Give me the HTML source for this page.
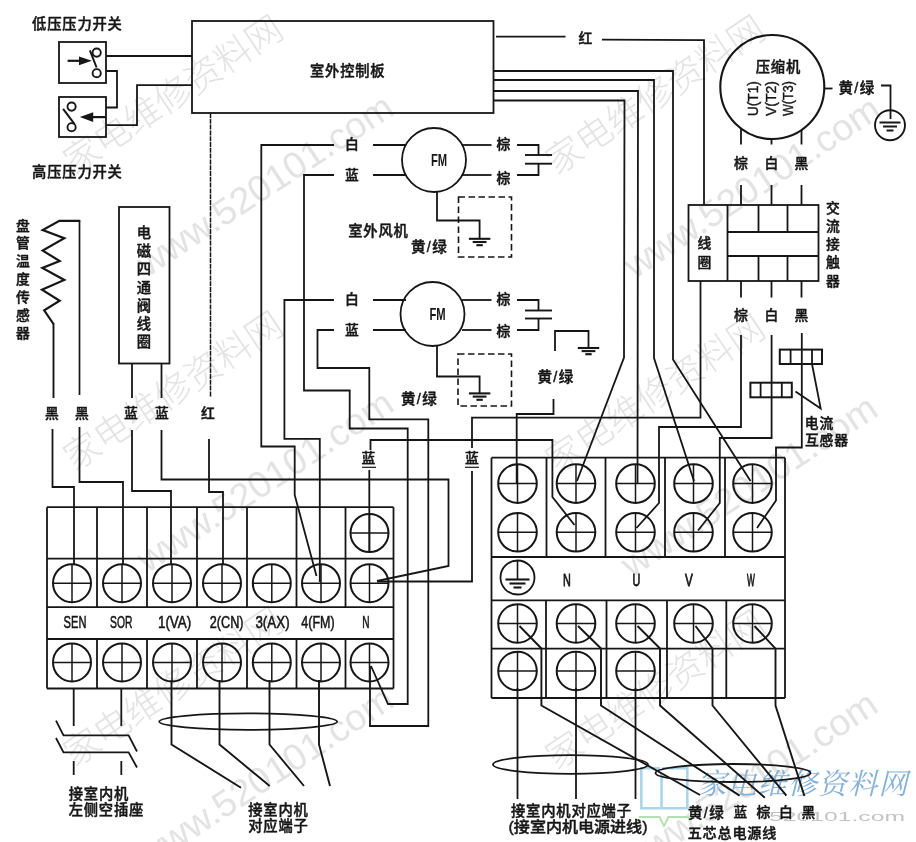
<!DOCTYPE html>
<html lang="zh-CN">
<head>
<meta charset="utf-8">
<title>空调室外机接线图</title>
<style>
html,body{margin:0;padding:0;background:#ffffff;}
body{width:916px;height:842px;overflow:hidden;font-family:"Liberation Sans","Noto Sans CJK SC",sans-serif;}
svg{display:block;will-change:transform;}
</style>
</head>
<body>
<svg width="916" height="842" viewBox="0 0 916 842" shape-rendering="geometricPrecision">
<text x="173.0" y="95.0" font-size="36.0" font-weight="300" text-anchor="middle" fill="#e3e3e3" font-family='"Liberation Sans", "Noto Sans CJK SC", sans-serif' dominant-baseline="central" textLength="254.0" lengthAdjust="spacingAndGlyphs" transform="rotate(-33.6 173.0 95.0)">家电维修资料网</text>
<text x="265.0" y="185.0" font-size="37.0" font-weight="300" text-anchor="middle" fill="#e3e3e3" font-family='"Liberation Sans", "Noto Sans CJK SC", sans-serif' dominant-baseline="central" textLength="298.0" lengthAdjust="spacingAndGlyphs" transform="rotate(-33.4 265.0 185.0)">www.520101.com</text>
<text x="173.0" y="391.0" font-size="36.0" font-weight="300" text-anchor="middle" fill="#e3e3e3" font-family='"Liberation Sans", "Noto Sans CJK SC", sans-serif' dominant-baseline="central" textLength="254.0" lengthAdjust="spacingAndGlyphs" transform="rotate(-33.6 173.0 391.0)">家电维修资料网</text>
<text x="265.0" y="481.0" font-size="37.0" font-weight="300" text-anchor="middle" fill="#e3e3e3" font-family='"Liberation Sans", "Noto Sans CJK SC", sans-serif' dominant-baseline="central" textLength="298.0" lengthAdjust="spacingAndGlyphs" transform="rotate(-33.4 265.0 481.0)">www.520101.com</text>
<text x="173.0" y="687.0" font-size="36.0" font-weight="300" text-anchor="middle" fill="#e3e3e3" font-family='"Liberation Sans", "Noto Sans CJK SC", sans-serif' dominant-baseline="central" textLength="254.0" lengthAdjust="spacingAndGlyphs" transform="rotate(-33.6 173.0 687.0)">家电维修资料网</text>
<text x="265.0" y="777.0" font-size="37.0" font-weight="300" text-anchor="middle" fill="#e3e3e3" font-family='"Liberation Sans", "Noto Sans CJK SC", sans-serif' dominant-baseline="central" textLength="298.0" lengthAdjust="spacingAndGlyphs" transform="rotate(-33.4 265.0 777.0)">www.520101.com</text>
<text x="655.0" y="95.0" font-size="36.0" font-weight="300" text-anchor="middle" fill="#e3e3e3" font-family='"Liberation Sans", "Noto Sans CJK SC", sans-serif' dominant-baseline="central" textLength="254.0" lengthAdjust="spacingAndGlyphs" transform="rotate(-33.6 655.0 95.0)">家电维修资料网</text>
<text x="752.0" y="187.0" font-size="37.0" font-weight="300" text-anchor="middle" fill="#e3e3e3" font-family='"Liberation Sans", "Noto Sans CJK SC", sans-serif' dominant-baseline="central" textLength="298.0" lengthAdjust="spacingAndGlyphs" transform="rotate(-33.4 752.0 187.0)">www.520101.com</text>
<text x="655.0" y="394.0" font-size="36.0" font-weight="300" text-anchor="middle" fill="#e3e3e3" font-family='"Liberation Sans", "Noto Sans CJK SC", sans-serif' dominant-baseline="central" textLength="254.0" lengthAdjust="spacingAndGlyphs" transform="rotate(-33.6 655.0 394.0)">家电维修资料网</text>
<text x="749.0" y="486.0" font-size="37.0" font-weight="300" text-anchor="middle" fill="#e3e3e3" font-family='"Liberation Sans", "Noto Sans CJK SC", sans-serif' dominant-baseline="central" textLength="298.0" lengthAdjust="spacingAndGlyphs" transform="rotate(-33.4 749.0 486.0)">www.520101.com</text>
<text x="655.0" y="690.0" font-size="36.0" font-weight="300" text-anchor="middle" fill="#e3e3e3" font-family='"Liberation Sans", "Noto Sans CJK SC", sans-serif' dominant-baseline="central" textLength="254.0" lengthAdjust="spacingAndGlyphs" transform="rotate(-33.6 655.0 690.0)">家电维修资料网</text>
<text x="749.0" y="782.0" font-size="37.0" font-weight="300" text-anchor="middle" fill="#e3e3e3" font-family='"Liberation Sans", "Noto Sans CJK SC", sans-serif' dominant-baseline="central" textLength="298.0" lengthAdjust="spacingAndGlyphs" transform="rotate(-33.4 749.0 782.0)">www.520101.com</text>
<polyline points="660.0,768.3 641.3,768.3 641.3,808.3 660.0,808.3" fill="none" stroke="#a9d6ea" stroke-width="2.60" />
<polyline points="661.5,773.0 661.5,808.3 687.3,808.3 687.3,768.3 662.0,768.3" fill="none" stroke="#a9d6ea" stroke-width="2.60" />
<polyline points="639.0,817.0 659.5,817.0 664.0,826.0 668.5,817.0 689.0,817.0" fill="none" stroke="#b4dfae" stroke-width="1.90" />
<text x="803.0" y="783.5" font-size="29.0" font-weight="400" text-anchor="middle" fill="#86b1d8" font-family='"Liberation Serif", "Noto Serif CJK SC", serif' dominant-baseline="central" letter-spacing="1.2" font-style="italic">家电维修资料网</text>
<text x="837.0" y="816.5" font-size="12.5" font-weight="400" text-anchor="middle" fill="#c4c4c4" font-family='"Liberation Sans", sans-serif' dominant-baseline="central" textLength="136.0" lengthAdjust="spacingAndGlyphs" >520101.com</text>
<text x="77.4" y="23.5" font-size="14.3" font-weight="500" text-anchor="middle" fill="#161616" font-family='"Liberation Sans", "Noto Sans CJK SC", sans-serif' dominant-baseline="central" letter-spacing="0.8"  stroke="#161616" stroke-width="0.45" stroke-linejoin="round">低压压力开关</text>
<text x="77.4" y="172.0" font-size="14.3" font-weight="500" text-anchor="middle" fill="#161616" font-family='"Liberation Sans", "Noto Sans CJK SC", sans-serif' dominant-baseline="central" letter-spacing="0.8"  stroke="#161616" stroke-width="0.45" stroke-linejoin="round">高压压力开关</text>
<rect x="59.0" y="42.0" width="47.0" height="41.0" fill="none" stroke="#161616" stroke-width="1.80"/>
<rect x="59.0" y="97.0" width="47.0" height="40.0" fill="none" stroke="#161616" stroke-width="1.80"/>
<polyline points="67.6,60.8 81.5,60.8" fill="none" stroke="#161616" stroke-width="2.20" />
<polygon points="79,56.4 91.8,60.8 79,65.2" fill="#161616"/>
<circle cx="96.7" cy="52.6" r="4.1" fill="none" stroke="#161616" stroke-width="1.90"/>
<circle cx="96.7" cy="73.2" r="4.1" fill="none" stroke="#161616" stroke-width="1.90"/>
<polyline points="89.9,50.4 96.6,67.5" fill="none" stroke="#161616" stroke-width="2.00" />
<circle cx="71.6" cy="106.6" r="4.1" fill="none" stroke="#161616" stroke-width="1.90"/>
<circle cx="71.6" cy="127.2" r="4.1" fill="none" stroke="#161616" stroke-width="1.90"/>
<polyline points="63.1,108.9 74.6,124.2" fill="none" stroke="#161616" stroke-width="2.00" />
<polyline points="92.5,117.1 105.6,117.1" fill="none" stroke="#161616" stroke-width="2.20" />
<polygon points="93.2,112.3 79.8,117.1 93.2,121.9" fill="#161616"/>
<polyline points="106.0,56.0 192.0,56.0" fill="none" stroke="#161616" stroke-width="1.80" />
<polyline points="106.0,71.0 117.0,71.0 117.0,107.5 106.0,107.5" fill="none" stroke="#161616" stroke-width="1.80" />
<polyline points="106.0,125.2 137.0,125.2 137.0,85.2 192.0,85.2" fill="none" stroke="#161616" stroke-width="1.80" />
<rect x="192.0" y="21.0" width="301.5" height="92.0" fill="none" stroke="#161616" stroke-width="1.80"/>
<text x="347.7" y="70.8" font-size="14.3" font-weight="500" text-anchor="middle" fill="#161616" font-family='"Liberation Sans", "Noto Sans CJK SC", sans-serif' dominant-baseline="central" letter-spacing="0.8"  stroke="#161616" stroke-width="0.45" stroke-linejoin="round">室外控制板</text>
<text x="23.4" y="226.0" font-size="13.8" font-weight="500" text-anchor="middle" fill="#161616" font-family='"Liberation Sans", "Noto Sans CJK SC", sans-serif' dominant-baseline="central" letter-spacing="0.8"  stroke="#161616" stroke-width="0.45" stroke-linejoin="round">盘</text>
<text x="23.4" y="243.9" font-size="13.8" font-weight="500" text-anchor="middle" fill="#161616" font-family='"Liberation Sans", "Noto Sans CJK SC", sans-serif' dominant-baseline="central" letter-spacing="0.8"  stroke="#161616" stroke-width="0.45" stroke-linejoin="round">管</text>
<text x="23.4" y="261.8" font-size="13.8" font-weight="500" text-anchor="middle" fill="#161616" font-family='"Liberation Sans", "Noto Sans CJK SC", sans-serif' dominant-baseline="central" letter-spacing="0.8"  stroke="#161616" stroke-width="0.45" stroke-linejoin="round">温</text>
<text x="23.4" y="279.7" font-size="13.8" font-weight="500" text-anchor="middle" fill="#161616" font-family='"Liberation Sans", "Noto Sans CJK SC", sans-serif' dominant-baseline="central" letter-spacing="0.8"  stroke="#161616" stroke-width="0.45" stroke-linejoin="round">度</text>
<text x="23.4" y="297.6" font-size="13.8" font-weight="500" text-anchor="middle" fill="#161616" font-family='"Liberation Sans", "Noto Sans CJK SC", sans-serif' dominant-baseline="central" letter-spacing="0.8"  stroke="#161616" stroke-width="0.45" stroke-linejoin="round">传</text>
<text x="23.4" y="315.5" font-size="13.8" font-weight="500" text-anchor="middle" fill="#161616" font-family='"Liberation Sans", "Noto Sans CJK SC", sans-serif' dominant-baseline="central" letter-spacing="0.8"  stroke="#161616" stroke-width="0.45" stroke-linejoin="round">感</text>
<text x="23.4" y="333.4" font-size="13.8" font-weight="500" text-anchor="middle" fill="#161616" font-family='"Liberation Sans", "Noto Sans CJK SC", sans-serif' dominant-baseline="central" letter-spacing="0.8"  stroke="#161616" stroke-width="0.45" stroke-linejoin="round">器</text>
<polyline points="79.5,395.0 79.5,220.8" fill="none" stroke="#161616" stroke-width="1.70" />
<polyline points="80.3,220.8 59.4,220.8 42.7,230.0 64.3,238.2 42.7,250.6 59.7,261.0 42.4,268.0 64.3,280.0 42.0,289.7 59.7,300.8 44.2,310.4 53.5,324.0" fill="none" stroke="#161616" stroke-width="2.20" stroke-linejoin="miter"/>
<polyline points="53.5,323.0 53.5,398.0" fill="none" stroke="#161616" stroke-width="1.90" />
<rect x="119.0" y="207.0" width="50.5" height="156.5" fill="none" stroke="#161616" stroke-width="1.80"/>
<text x="144.4" y="233.0" font-size="14.3" font-weight="500" text-anchor="middle" fill="#161616" font-family='"Liberation Sans", "Noto Sans CJK SC", sans-serif' dominant-baseline="central" letter-spacing="0.8"  stroke="#161616" stroke-width="0.45" stroke-linejoin="round">电</text>
<text x="144.4" y="251.2" font-size="14.3" font-weight="500" text-anchor="middle" fill="#161616" font-family='"Liberation Sans", "Noto Sans CJK SC", sans-serif' dominant-baseline="central" letter-spacing="0.8"  stroke="#161616" stroke-width="0.45" stroke-linejoin="round">磁</text>
<text x="144.4" y="269.4" font-size="14.3" font-weight="500" text-anchor="middle" fill="#161616" font-family='"Liberation Sans", "Noto Sans CJK SC", sans-serif' dominant-baseline="central" letter-spacing="0.8"  stroke="#161616" stroke-width="0.45" stroke-linejoin="round">四</text>
<text x="144.4" y="287.6" font-size="14.3" font-weight="500" text-anchor="middle" fill="#161616" font-family='"Liberation Sans", "Noto Sans CJK SC", sans-serif' dominant-baseline="central" letter-spacing="0.8"  stroke="#161616" stroke-width="0.45" stroke-linejoin="round">通</text>
<text x="144.4" y="305.8" font-size="14.3" font-weight="500" text-anchor="middle" fill="#161616" font-family='"Liberation Sans", "Noto Sans CJK SC", sans-serif' dominant-baseline="central" letter-spacing="0.8"  stroke="#161616" stroke-width="0.45" stroke-linejoin="round">阀</text>
<text x="144.4" y="324.0" font-size="14.3" font-weight="500" text-anchor="middle" fill="#161616" font-family='"Liberation Sans", "Noto Sans CJK SC", sans-serif' dominant-baseline="central" letter-spacing="0.8"  stroke="#161616" stroke-width="0.45" stroke-linejoin="round">线</text>
<text x="144.4" y="342.2" font-size="14.3" font-weight="500" text-anchor="middle" fill="#161616" font-family='"Liberation Sans", "Noto Sans CJK SC", sans-serif' dominant-baseline="central" letter-spacing="0.8"  stroke="#161616" stroke-width="0.45" stroke-linejoin="round">圈</text>
<polyline points="132.0,363.5 132.0,398.0" fill="none" stroke="#161616" stroke-width="1.80" />
<polyline points="161.5,363.5 161.5,398.0" fill="none" stroke="#161616" stroke-width="1.80" />
<polyline points="210.5,113.0 210.5,397.0" fill="none" stroke="#161616" stroke-width="1.50" stroke-dasharray="5 0.8" />
<text x="52.4" y="413.5" font-size="13.8" font-weight="500" text-anchor="middle" fill="#161616" font-family='"Liberation Sans", "Noto Sans CJK SC", sans-serif' dominant-baseline="central" letter-spacing="0.8"  stroke="#161616" stroke-width="0.45" stroke-linejoin="round">黑</text>
<text x="82.4" y="413.5" font-size="13.8" font-weight="500" text-anchor="middle" fill="#161616" font-family='"Liberation Sans", "Noto Sans CJK SC", sans-serif' dominant-baseline="central" letter-spacing="0.8"  stroke="#161616" stroke-width="0.45" stroke-linejoin="round">黑</text>
<text x="131.4" y="413.5" font-size="13.8" font-weight="500" text-anchor="middle" fill="#161616" font-family='"Liberation Sans", "Noto Sans CJK SC", sans-serif' dominant-baseline="central" letter-spacing="0.8"  stroke="#161616" stroke-width="0.45" stroke-linejoin="round">蓝</text>
<text x="162.4" y="413.5" font-size="13.8" font-weight="500" text-anchor="middle" fill="#161616" font-family='"Liberation Sans", "Noto Sans CJK SC", sans-serif' dominant-baseline="central" letter-spacing="0.8"  stroke="#161616" stroke-width="0.45" stroke-linejoin="round">蓝</text>
<text x="208.4" y="413.5" font-size="13.8" font-weight="500" text-anchor="middle" fill="#161616" font-family='"Liberation Sans", "Noto Sans CJK SC", sans-serif' dominant-baseline="central" letter-spacing="0.8"  stroke="#161616" stroke-width="0.45" stroke-linejoin="round">红</text>
<polyline points="52.5,429.0 52.5,487.0 74.0,487.0 74.0,565.0" fill="none" stroke="#161616" stroke-width="1.80" />
<polyline points="79.5,427.0 79.5,482.0 123.0,482.0 123.0,565.0" fill="none" stroke="#161616" stroke-width="1.80" />
<polyline points="132.0,430.0 132.0,491.0 171.0,491.0 171.0,565.0" fill="none" stroke="#161616" stroke-width="1.80" />
<polyline points="161.5,430.0 161.5,479.5 448.5,479.5 448.5,566.0 377.0,581.0" fill="none" stroke="#161616" stroke-width="1.80" />
<polyline points="209.0,439.0 209.0,492.0 223.0,492.0 223.0,565.0" fill="none" stroke="#161616" stroke-width="1.80" />
<polyline points="47.0,507.2 393.5,507.2" fill="none" stroke="#161616" stroke-width="1.80" />
<polyline points="47.0,558.6 393.5,558.6" fill="none" stroke="#161616" stroke-width="1.80" />
<polyline points="47.0,607.2 393.5,607.2" fill="none" stroke="#161616" stroke-width="1.80" />
<polyline points="47.0,639.0 393.5,639.0" fill="none" stroke="#161616" stroke-width="1.80" />
<polyline points="47.0,688.5 393.5,688.5" fill="none" stroke="#161616" stroke-width="1.80" />
<polyline points="47.0,507.2 47.0,688.5" fill="none" stroke="#161616" stroke-width="1.80" />
<polyline points="393.5,507.2 393.5,688.5" fill="none" stroke="#161616" stroke-width="1.80" />
<polyline points="97.0,507.2 97.0,607.2" fill="none" stroke="#161616" stroke-width="1.80" />
<polyline points="97.0,639.0 97.0,688.5" fill="none" stroke="#161616" stroke-width="1.80" />
<polyline points="147.0,507.2 147.0,607.2" fill="none" stroke="#161616" stroke-width="1.80" />
<polyline points="147.0,639.0 147.0,688.5" fill="none" stroke="#161616" stroke-width="1.80" />
<polyline points="197.0,507.2 197.0,607.2" fill="none" stroke="#161616" stroke-width="1.80" />
<polyline points="197.0,639.0 197.0,688.5" fill="none" stroke="#161616" stroke-width="1.80" />
<polyline points="247.0,507.2 247.0,607.2" fill="none" stroke="#161616" stroke-width="1.80" />
<polyline points="247.0,639.0 247.0,688.5" fill="none" stroke="#161616" stroke-width="1.80" />
<polyline points="296.5,507.2 296.5,607.2" fill="none" stroke="#161616" stroke-width="1.80" />
<polyline points="296.5,639.0 296.5,688.5" fill="none" stroke="#161616" stroke-width="1.80" />
<polyline points="345.5,507.2 345.5,607.2" fill="none" stroke="#161616" stroke-width="1.80" />
<polyline points="345.5,639.0 345.5,688.5" fill="none" stroke="#161616" stroke-width="1.80" />
<circle cx="72.0" cy="583.2" r="19.0" fill="none" stroke="#161616" stroke-width="2.00"/>
<polyline points="53.0,583.2 91.0,583.2" fill="none" stroke="#161616" stroke-width="1.50" />
<polyline points="72.0,564.2 72.0,602.2" fill="none" stroke="#161616" stroke-width="1.50" />
<circle cx="72.0" cy="662.4" r="19.0" fill="none" stroke="#161616" stroke-width="2.00"/>
<polyline points="53.0,662.4 91.0,662.4" fill="none" stroke="#161616" stroke-width="1.50" />
<polyline points="72.0,643.4 72.0,681.4" fill="none" stroke="#161616" stroke-width="1.50" />
<circle cx="122.0" cy="583.2" r="19.0" fill="none" stroke="#161616" stroke-width="2.00"/>
<polyline points="103.0,583.2 141.0,583.2" fill="none" stroke="#161616" stroke-width="1.50" />
<polyline points="122.0,564.2 122.0,602.2" fill="none" stroke="#161616" stroke-width="1.50" />
<circle cx="122.0" cy="662.4" r="19.0" fill="none" stroke="#161616" stroke-width="2.00"/>
<polyline points="103.0,662.4 141.0,662.4" fill="none" stroke="#161616" stroke-width="1.50" />
<polyline points="122.0,643.4 122.0,681.4" fill="none" stroke="#161616" stroke-width="1.50" />
<circle cx="172.0" cy="583.2" r="19.0" fill="none" stroke="#161616" stroke-width="2.00"/>
<polyline points="153.0,583.2 191.0,583.2" fill="none" stroke="#161616" stroke-width="1.50" />
<polyline points="172.0,564.2 172.0,602.2" fill="none" stroke="#161616" stroke-width="1.50" />
<circle cx="172.0" cy="662.4" r="19.0" fill="none" stroke="#161616" stroke-width="2.00"/>
<polyline points="153.0,662.4 191.0,662.4" fill="none" stroke="#161616" stroke-width="1.50" />
<polyline points="172.0,643.4 172.0,681.4" fill="none" stroke="#161616" stroke-width="1.50" />
<circle cx="222.0" cy="583.2" r="19.0" fill="none" stroke="#161616" stroke-width="2.00"/>
<polyline points="203.0,583.2 241.0,583.2" fill="none" stroke="#161616" stroke-width="1.50" />
<polyline points="222.0,564.2 222.0,602.2" fill="none" stroke="#161616" stroke-width="1.50" />
<circle cx="222.0" cy="662.4" r="19.0" fill="none" stroke="#161616" stroke-width="2.00"/>
<polyline points="203.0,662.4 241.0,662.4" fill="none" stroke="#161616" stroke-width="1.50" />
<polyline points="222.0,643.4 222.0,681.4" fill="none" stroke="#161616" stroke-width="1.50" />
<circle cx="271.8" cy="583.2" r="19.0" fill="none" stroke="#161616" stroke-width="2.00"/>
<polyline points="252.8,583.2 290.8,583.2" fill="none" stroke="#161616" stroke-width="1.50" />
<polyline points="271.8,564.2 271.8,602.2" fill="none" stroke="#161616" stroke-width="1.50" />
<circle cx="271.8" cy="662.4" r="19.0" fill="none" stroke="#161616" stroke-width="2.00"/>
<polyline points="252.8,662.4 290.8,662.4" fill="none" stroke="#161616" stroke-width="1.50" />
<polyline points="271.8,643.4 271.8,681.4" fill="none" stroke="#161616" stroke-width="1.50" />
<circle cx="321.0" cy="583.2" r="19.0" fill="none" stroke="#161616" stroke-width="2.00"/>
<polyline points="302.0,583.2 340.0,583.2" fill="none" stroke="#161616" stroke-width="1.50" />
<polyline points="321.0,564.2 321.0,602.2" fill="none" stroke="#161616" stroke-width="1.50" />
<circle cx="321.0" cy="662.4" r="19.0" fill="none" stroke="#161616" stroke-width="2.00"/>
<polyline points="302.0,662.4 340.0,662.4" fill="none" stroke="#161616" stroke-width="1.50" />
<polyline points="321.0,643.4 321.0,681.4" fill="none" stroke="#161616" stroke-width="1.50" />
<circle cx="369.5" cy="583.2" r="19.0" fill="none" stroke="#161616" stroke-width="2.00"/>
<polyline points="350.5,583.2 388.5,583.2" fill="none" stroke="#161616" stroke-width="1.50" />
<polyline points="369.5,564.2 369.5,602.2" fill="none" stroke="#161616" stroke-width="1.50" />
<circle cx="369.5" cy="662.4" r="19.0" fill="none" stroke="#161616" stroke-width="2.00"/>
<polyline points="350.5,662.4 388.5,662.4" fill="none" stroke="#161616" stroke-width="1.50" />
<polyline points="369.5,643.4 369.5,681.4" fill="none" stroke="#161616" stroke-width="1.50" />
<circle cx="369.5" cy="533.0" r="19.0" fill="none" stroke="#161616" stroke-width="2.00"/>
<polyline points="350.5,533.0 388.5,533.0" fill="none" stroke="#161616" stroke-width="1.50" />
<polyline points="369.5,514.0 369.5,552.0" fill="none" stroke="#161616" stroke-width="1.50" />
<text x="75.0" y="622.3" font-size="16.5" font-weight="400" text-anchor="middle" fill="#161616" font-family='"Liberation Sans", sans-serif' dominant-baseline="central" textLength="22.8" lengthAdjust="spacingAndGlyphs" stroke="#161616" stroke-width="0.55">SEN</text>
<text x="121.2" y="622.3" font-size="16.5" font-weight="400" text-anchor="middle" fill="#161616" font-family='"Liberation Sans", sans-serif' dominant-baseline="central" textLength="22.4" lengthAdjust="spacingAndGlyphs" stroke="#161616" stroke-width="0.55">SOR</text>
<text x="174.6" y="622.3" font-size="16.5" font-weight="400" text-anchor="middle" fill="#161616" font-family='"Liberation Sans", sans-serif' dominant-baseline="central" textLength="33.3" lengthAdjust="spacingAndGlyphs" stroke="#161616" stroke-width="0.55">1(VA)</text>
<text x="226.7" y="622.3" font-size="16.5" font-weight="400" text-anchor="middle" fill="#161616" font-family='"Liberation Sans", sans-serif' dominant-baseline="central" textLength="33.8" lengthAdjust="spacingAndGlyphs" stroke="#161616" stroke-width="0.55">2(CN)</text>
<text x="272.5" y="622.3" font-size="16.5" font-weight="400" text-anchor="middle" fill="#161616" font-family='"Liberation Sans", sans-serif' dominant-baseline="central" textLength="34.2" lengthAdjust="spacingAndGlyphs" stroke="#161616" stroke-width="0.55">3(AX)</text>
<text x="318.0" y="622.3" font-size="16.5" font-weight="400" text-anchor="middle" fill="#161616" font-family='"Liberation Sans", sans-serif' dominant-baseline="central" textLength="33.4" lengthAdjust="spacingAndGlyphs" stroke="#161616" stroke-width="0.55">4(FM)</text>
<text x="366.0" y="622.3" font-size="16.5" font-weight="400" text-anchor="middle" fill="#161616" font-family='"Liberation Sans", sans-serif' dominant-baseline="central" textLength="7.3" lengthAdjust="spacingAndGlyphs" stroke="#161616" stroke-width="0.55">N</text>
<circle cx="434.0" cy="160.0" r="32.0" fill="none" stroke="#161616" stroke-width="1.80"/>
<text x="439.0" y="159.5" font-size="16.5" font-weight="700" text-anchor="middle" fill="#161616" font-family='"Liberation Sans", sans-serif' dominant-baseline="central" textLength="16.2" lengthAdjust="spacingAndGlyphs" >FM</text>
<text x="352.4" y="144.5" font-size="13.8" font-weight="500" text-anchor="middle" fill="#161616" font-family='"Liberation Sans", "Noto Sans CJK SC", sans-serif' dominant-baseline="central" letter-spacing="0.8"  stroke="#161616" stroke-width="0.45" stroke-linejoin="round">白</text>
<text x="352.4" y="175.5" font-size="13.8" font-weight="500" text-anchor="middle" fill="#161616" font-family='"Liberation Sans", "Noto Sans CJK SC", sans-serif' dominant-baseline="central" letter-spacing="0.8"  stroke="#161616" stroke-width="0.45" stroke-linejoin="round">蓝</text>
<polyline points="373.0,145.0 406.0,145.0" fill="none" stroke="#161616" stroke-width="1.80" />
<polyline points="373.0,175.0 406.0,175.0" fill="none" stroke="#161616" stroke-width="1.80" />
<polyline points="462.0,145.0 491.5,145.0" fill="none" stroke="#161616" stroke-width="1.80" />
<polyline points="462.0,175.0 491.5,175.0" fill="none" stroke="#161616" stroke-width="1.80" />
<text x="503.9" y="144.5" font-size="13.8" font-weight="500" text-anchor="middle" fill="#161616" font-family='"Liberation Sans", "Noto Sans CJK SC", sans-serif' dominant-baseline="central" letter-spacing="0.8"  stroke="#161616" stroke-width="0.45" stroke-linejoin="round">棕</text>
<text x="503.9" y="178.0" font-size="13.8" font-weight="500" text-anchor="middle" fill="#161616" font-family='"Liberation Sans", "Noto Sans CJK SC", sans-serif' dominant-baseline="central" letter-spacing="0.8"  stroke="#161616" stroke-width="0.45" stroke-linejoin="round">棕</text>
<polyline points="517.0,145.0 538.5,145.0 538.5,155.0" fill="none" stroke="#161616" stroke-width="1.80" />
<polyline points="517.0,175.0 538.5,175.0 538.5,163.7" fill="none" stroke="#161616" stroke-width="1.80" />
<polyline points="525.0,155.0 552.0,155.0" fill="none" stroke="#161616" stroke-width="1.90" />
<polyline points="525.0,163.7 552.0,163.7" fill="none" stroke="#161616" stroke-width="1.90" />
<circle cx="432.5" cy="314.0" r="32.0" fill="none" stroke="#161616" stroke-width="1.80"/>
<text x="437.5" y="313.5" font-size="16.5" font-weight="700" text-anchor="middle" fill="#161616" font-family='"Liberation Sans", sans-serif' dominant-baseline="central" textLength="16.2" lengthAdjust="spacingAndGlyphs" >FM</text>
<text x="352.4" y="299.5" font-size="13.8" font-weight="500" text-anchor="middle" fill="#161616" font-family='"Liberation Sans", "Noto Sans CJK SC", sans-serif' dominant-baseline="central" letter-spacing="0.8"  stroke="#161616" stroke-width="0.45" stroke-linejoin="round">白</text>
<text x="352.4" y="330.5" font-size="13.8" font-weight="500" text-anchor="middle" fill="#161616" font-family='"Liberation Sans", "Noto Sans CJK SC", sans-serif' dominant-baseline="central" letter-spacing="0.8"  stroke="#161616" stroke-width="0.45" stroke-linejoin="round">蓝</text>
<polyline points="373.0,300.0 406.0,300.0" fill="none" stroke="#161616" stroke-width="1.80" />
<polyline points="373.0,330.0 406.0,330.0" fill="none" stroke="#161616" stroke-width="1.80" />
<polyline points="462.0,300.0 491.5,300.0" fill="none" stroke="#161616" stroke-width="1.80" />
<polyline points="462.0,330.0 491.5,330.0" fill="none" stroke="#161616" stroke-width="1.80" />
<text x="503.9" y="299.5" font-size="13.8" font-weight="500" text-anchor="middle" fill="#161616" font-family='"Liberation Sans", "Noto Sans CJK SC", sans-serif' dominant-baseline="central" letter-spacing="0.8"  stroke="#161616" stroke-width="0.45" stroke-linejoin="round">棕</text>
<text x="503.9" y="331.5" font-size="13.8" font-weight="500" text-anchor="middle" fill="#161616" font-family='"Liberation Sans", "Noto Sans CJK SC", sans-serif' dominant-baseline="central" letter-spacing="0.8"  stroke="#161616" stroke-width="0.45" stroke-linejoin="round">棕</text>
<polyline points="517.0,300.0 538.5,300.0 538.5,310.5" fill="none" stroke="#161616" stroke-width="1.80" />
<polyline points="517.0,330.0 538.5,330.0 538.5,318.5" fill="none" stroke="#161616" stroke-width="1.80" />
<polyline points="525.0,310.5 552.0,310.5" fill="none" stroke="#161616" stroke-width="1.90" />
<polyline points="525.0,318.5 552.0,318.5" fill="none" stroke="#161616" stroke-width="1.90" />
<polyline points="334.0,145.0 261.3,145.0 261.3,446.5 294.7,446.5 294.7,495.0 316.5,576.0" fill="none" stroke="#161616" stroke-width="1.80" />
<polyline points="334.0,175.0 304.0,175.0 304.0,390.5 349.7,390.5 349.7,428.5 407.7,428.5 407.7,704.0 388.0,704.0 371.0,666.0" fill="none" stroke="#161616" stroke-width="1.80" />
<polyline points="334.0,300.0 284.4,300.0 284.4,438.8 319.8,438.8 319.8,582.0" fill="none" stroke="#161616" stroke-width="1.80" />
<polyline points="334.0,330.0 317.5,330.0 317.5,368.0 369.3,368.0 369.3,419.4 428.3,419.4 428.3,726.0 370.0,726.0 370.0,666.0" fill="none" stroke="#161616" stroke-width="1.80" />
<polyline points="437.0,192.0 437.0,220.5 479.6,220.5 479.6,239.0" fill="none" stroke="#161616" stroke-width="1.80" />
<polyline points="468.9,238.8 490.3,238.8" fill="none" stroke="#161616" stroke-width="2.10" />
<polyline points="472.7,242.0 486.5,242.0" fill="none" stroke="#161616" stroke-width="2.10" />
<polyline points="476.4,245.2 482.8,245.2" fill="none" stroke="#161616" stroke-width="2.10" />
<rect x="458.5" y="197.0" width="53.0" height="60.0" fill="none" stroke="#161616" stroke-width="1.60" stroke-dasharray="6.5 3.5"/>
<text x="378.4" y="230.5" font-size="14.3" font-weight="500" text-anchor="middle" fill="#161616" font-family='"Liberation Sans", "Noto Sans CJK SC", sans-serif' dominant-baseline="central" letter-spacing="0.8"  stroke="#161616" stroke-width="0.45" stroke-linejoin="round">室外风机</text>
<text x="429.5" y="246.9" font-size="14.5" font-weight="500" text-anchor="middle" fill="#161616" font-family='"Liberation Sans", "Noto Sans CJK SC", sans-serif' dominant-baseline="central" letter-spacing="1.3"  stroke="#161616" stroke-width="0.45" stroke-linejoin="round">黄/绿</text>
<polyline points="437.0,346.0 437.0,376.5 479.6,376.5 479.6,393.0" fill="none" stroke="#161616" stroke-width="1.80" />
<polyline points="468.9,393.4 490.3,393.4" fill="none" stroke="#161616" stroke-width="2.10" />
<polyline points="472.7,396.6 486.5,396.6" fill="none" stroke="#161616" stroke-width="2.10" />
<polyline points="476.4,399.8 482.8,399.8" fill="none" stroke="#161616" stroke-width="2.10" />
<rect x="458.0" y="354.0" width="53.5" height="52.0" fill="none" stroke="#161616" stroke-width="1.60" stroke-dasharray="6.5 3.5"/>
<text x="419.5" y="399.0" font-size="14.5" font-weight="500" text-anchor="middle" fill="#161616" font-family='"Liberation Sans", "Noto Sans CJK SC", sans-serif' dominant-baseline="central" letter-spacing="1.3"  stroke="#161616" stroke-width="0.45" stroke-linejoin="round">黄/绿</text>
<polyline points="555.0,351.0 555.0,331.0 588.5,331.0 588.5,347.5" fill="none" stroke="#161616" stroke-width="1.80" />
<polyline points="577.8,348.0 599.2,348.0" fill="none" stroke="#161616" stroke-width="2.10" />
<polyline points="581.6,351.1 595.4,351.1" fill="none" stroke="#161616" stroke-width="2.10" />
<polyline points="585.3,354.2 591.7,354.2" fill="none" stroke="#161616" stroke-width="2.10" />
<text x="556.0" y="377.0" font-size="14.5" font-weight="500" text-anchor="middle" fill="#161616" font-family='"Liberation Sans", "Noto Sans CJK SC", sans-serif' dominant-baseline="central" letter-spacing="1.3"  stroke="#161616" stroke-width="0.45" stroke-linejoin="round">黄/绿</text>
<polyline points="553.5,399.0 553.5,414.0 516.7,414.0 516.7,483.0" fill="none" stroke="#161616" stroke-width="1.80" />
<text x="368.9" y="458.5" font-size="13.8" font-weight="500" text-anchor="middle" fill="#161616" font-family='"Liberation Sans", "Noto Sans CJK SC", sans-serif' dominant-baseline="central" letter-spacing="0.8"  stroke="#161616" stroke-width="0.45" stroke-linejoin="round">蓝</text>
<polyline points="362.0,467.3 376.0,467.3" fill="none" stroke="#161616" stroke-width="1.20" />
<text x="472.4" y="458.5" font-size="13.8" font-weight="500" text-anchor="middle" fill="#161616" font-family='"Liberation Sans", "Noto Sans CJK SC", sans-serif' dominant-baseline="central" letter-spacing="0.8"  stroke="#161616" stroke-width="0.45" stroke-linejoin="round">蓝</text>
<polyline points="465.0,467.3 479.0,467.3" fill="none" stroke="#161616" stroke-width="1.20" />
<polyline points="370.5,450.0 370.5,440.0 552.4,440.0 552.4,497.0 574.5,525.0" fill="none" stroke="#161616" stroke-width="1.80" />
<polyline points="369.3,470.0 369.3,552.0" fill="none" stroke="#161616" stroke-width="1.80" />
<polyline points="472.0,448.0 472.0,417.7 700.5,417.7 700.5,281.0" fill="none" stroke="#161616" stroke-width="1.80" />
<polyline points="472.0,471.0 472.0,581.5 377.0,581.5" fill="none" stroke="#161616" stroke-width="1.80" />
<polyline points="496.0,36.6 565.5,36.6" fill="none" stroke="#161616" stroke-width="1.80" />
<text x="585.9" y="38.0" font-size="13.8" font-weight="500" text-anchor="middle" fill="#161616" font-family='"Liberation Sans", "Noto Sans CJK SC", sans-serif' dominant-baseline="central" letter-spacing="0.8"  stroke="#161616" stroke-width="0.45" stroke-linejoin="round">红</text>
<polyline points="602.0,39.6 704.0,40.2 704.0,204.5" fill="none" stroke="#161616" stroke-width="1.80" />
<polyline points="493.5,71.0 673.0,71.0 673.0,359.5 750.5,481.0" fill="none" stroke="#161616" stroke-width="1.80" />
<polyline points="493.5,80.0 654.0,80.0 654.0,358.0 694.0,481.0" fill="none" stroke="#161616" stroke-width="1.80" />
<polyline points="493.5,91.0 638.0,91.0 637.5,483.0" fill="none" stroke="#161616" stroke-width="1.80" />
<polyline points="493.5,100.5 624.5,100.5 624.0,357.5 577.0,481.0" fill="none" stroke="#161616" stroke-width="1.80" />
<circle cx="772.3" cy="87.0" r="52.0" fill="none" stroke="#161616" stroke-width="2.10"/>
<text x="778.4" y="67.0" font-size="14.3" font-weight="500" text-anchor="middle" fill="#161616" font-family='"Liberation Sans", "Noto Sans CJK SC", sans-serif' dominant-baseline="central" letter-spacing="0.8"  stroke="#161616" stroke-width="0.45" stroke-linejoin="round">压缩机</text>
<text x="752.7" y="98.6" font-size="14.5" font-weight="400" text-anchor="middle" fill="#161616" font-family='"Liberation Sans", sans-serif' dominant-baseline="central" textLength="35.0" lengthAdjust="spacingAndGlyphs" transform="rotate(-90 752.7 98.6)" stroke="#161616" stroke-width="0.4">U(T1)</text>
<text x="770.7" y="98.6" font-size="14.5" font-weight="400" text-anchor="middle" fill="#161616" font-family='"Liberation Sans", sans-serif' dominant-baseline="central" textLength="35.0" lengthAdjust="spacingAndGlyphs" transform="rotate(-90 770.7 98.6)" stroke="#161616" stroke-width="0.4">V(T2)</text>
<text x="788.0" y="98.6" font-size="14.5" font-weight="400" text-anchor="middle" fill="#161616" font-family='"Liberation Sans", sans-serif' dominant-baseline="central" textLength="35.0" lengthAdjust="spacingAndGlyphs" transform="rotate(-90 788.0 98.6)" stroke="#161616" stroke-width="0.4">W(T3)</text>
<polyline points="824.0,88.5 832.5,88.5" fill="none" stroke="#161616" stroke-width="1.80" />
<text x="857.0" y="88.0" font-size="14.5" font-weight="500" text-anchor="middle" fill="#161616" font-family='"Liberation Sans", "Noto Sans CJK SC", sans-serif' dominant-baseline="central" letter-spacing="1.3"  stroke="#161616" stroke-width="0.45" stroke-linejoin="round">黄/绿</text>
<polyline points="881.0,85.5 890.5,85.5 890.5,119.0" fill="none" stroke="#161616" stroke-width="1.80" />
<circle cx="890.0" cy="125.2" r="15.0" fill="none" stroke="#161616" stroke-width="1.90"/>
<polyline points="879.5,122.5 900.5,122.5" fill="none" stroke="#161616" stroke-width="2.00" />
<polyline points="883.0,126.5 897.0,126.5" fill="none" stroke="#161616" stroke-width="2.00" />
<polyline points="886.5,130.5 893.5,130.5" fill="none" stroke="#161616" stroke-width="2.00" />
<polyline points="741.0,128.5 741.0,144.5" fill="none" stroke="#161616" stroke-width="1.80" />
<text x="741.4" y="163.5" font-size="13.8" font-weight="500" text-anchor="middle" fill="#161616" font-family='"Liberation Sans", "Noto Sans CJK SC", sans-serif' dominant-baseline="central" letter-spacing="0.8"  stroke="#161616" stroke-width="0.45" stroke-linejoin="round">棕</text>
<polyline points="741.0,185.0 741.0,205.0" fill="none" stroke="#161616" stroke-width="1.80" />
<polyline points="741.0,281.0 741.0,297.5" fill="none" stroke="#161616" stroke-width="1.80" />
<text x="741.4" y="315.3" font-size="13.8" font-weight="500" text-anchor="middle" fill="#161616" font-family='"Liberation Sans", "Noto Sans CJK SC", sans-serif' dominant-baseline="central" letter-spacing="0.8"  stroke="#161616" stroke-width="0.45" stroke-linejoin="round">棕</text>
<polyline points="771.5,139.0 771.5,144.5" fill="none" stroke="#161616" stroke-width="1.80" />
<text x="771.9" y="163.5" font-size="13.8" font-weight="500" text-anchor="middle" fill="#161616" font-family='"Liberation Sans", "Noto Sans CJK SC", sans-serif' dominant-baseline="central" letter-spacing="0.8"  stroke="#161616" stroke-width="0.45" stroke-linejoin="round">白</text>
<polyline points="771.5,185.0 771.5,205.0" fill="none" stroke="#161616" stroke-width="1.80" />
<polyline points="771.5,281.0 771.5,297.5" fill="none" stroke="#161616" stroke-width="1.80" />
<text x="771.9" y="315.3" font-size="13.8" font-weight="500" text-anchor="middle" fill="#161616" font-family='"Liberation Sans", "Noto Sans CJK SC", sans-serif' dominant-baseline="central" letter-spacing="0.8"  stroke="#161616" stroke-width="0.45" stroke-linejoin="round">白</text>
<polyline points="801.5,130.0 801.5,144.5" fill="none" stroke="#161616" stroke-width="1.80" />
<text x="801.9" y="163.5" font-size="13.8" font-weight="500" text-anchor="middle" fill="#161616" font-family='"Liberation Sans", "Noto Sans CJK SC", sans-serif' dominant-baseline="central" letter-spacing="0.8"  stroke="#161616" stroke-width="0.45" stroke-linejoin="round">黑</text>
<polyline points="801.5,185.0 801.5,205.0" fill="none" stroke="#161616" stroke-width="1.80" />
<polyline points="801.5,281.0 801.5,297.5" fill="none" stroke="#161616" stroke-width="1.80" />
<text x="801.9" y="315.3" font-size="13.8" font-weight="500" text-anchor="middle" fill="#161616" font-family='"Liberation Sans", "Noto Sans CJK SC", sans-serif' dominant-baseline="central" letter-spacing="0.8"  stroke="#161616" stroke-width="0.45" stroke-linejoin="round">黑</text>
<rect x="688.5" y="205.0" width="130.0" height="76.0" fill="none" stroke="#161616" stroke-width="1.80"/>
<polyline points="727.5,205.0 727.5,281.0" fill="none" stroke="#161616" stroke-width="1.80" />
<polyline points="727.5,232.0 818.5,232.0" fill="none" stroke="#161616" stroke-width="1.80" />
<polyline points="727.5,256.0 818.5,256.0" fill="none" stroke="#161616" stroke-width="1.80" />
<polyline points="758.5,205.0 758.5,232.0" fill="none" stroke="#161616" stroke-width="1.80" />
<polyline points="758.5,256.0 758.5,281.0" fill="none" stroke="#161616" stroke-width="1.80" />
<polyline points="787.5,205.0 787.5,232.0" fill="none" stroke="#161616" stroke-width="1.80" />
<polyline points="787.5,256.0 787.5,281.0" fill="none" stroke="#161616" stroke-width="1.80" />
<text x="704.9" y="243.5" font-size="13.8" font-weight="500" text-anchor="middle" fill="#161616" font-family='"Liberation Sans", "Noto Sans CJK SC", sans-serif' dominant-baseline="central" letter-spacing="0.8"  stroke="#161616" stroke-width="0.45" stroke-linejoin="round">线</text>
<text x="704.9" y="262.0" font-size="13.8" font-weight="500" text-anchor="middle" fill="#161616" font-family='"Liberation Sans", "Noto Sans CJK SC", sans-serif' dominant-baseline="central" letter-spacing="0.8"  stroke="#161616" stroke-width="0.45" stroke-linejoin="round">圈</text>
<text x="833.4" y="208.0" font-size="13.8" font-weight="500" text-anchor="middle" fill="#161616" font-family='"Liberation Sans", "Noto Sans CJK SC", sans-serif' dominant-baseline="central" letter-spacing="0.8"  stroke="#161616" stroke-width="0.45" stroke-linejoin="round">交</text>
<text x="833.4" y="226.3" font-size="13.8" font-weight="500" text-anchor="middle" fill="#161616" font-family='"Liberation Sans", "Noto Sans CJK SC", sans-serif' dominant-baseline="central" letter-spacing="0.8"  stroke="#161616" stroke-width="0.45" stroke-linejoin="round">流</text>
<text x="833.4" y="244.6" font-size="13.8" font-weight="500" text-anchor="middle" fill="#161616" font-family='"Liberation Sans", "Noto Sans CJK SC", sans-serif' dominant-baseline="central" letter-spacing="0.8"  stroke="#161616" stroke-width="0.45" stroke-linejoin="round">接</text>
<text x="833.4" y="262.9" font-size="13.8" font-weight="500" text-anchor="middle" fill="#161616" font-family='"Liberation Sans", "Noto Sans CJK SC", sans-serif' dominant-baseline="central" letter-spacing="0.8"  stroke="#161616" stroke-width="0.45" stroke-linejoin="round">触</text>
<text x="833.4" y="281.2" font-size="13.8" font-weight="500" text-anchor="middle" fill="#161616" font-family='"Liberation Sans", "Noto Sans CJK SC", sans-serif' dominant-baseline="central" letter-spacing="0.8"  stroke="#161616" stroke-width="0.45" stroke-linejoin="round">器</text>
<polyline points="741.0,335.0 741.0,427.0 659.0,427.0 659.0,503.0 636.5,528.0" fill="none" stroke="#161616" stroke-width="1.80" />
<polyline points="771.6,335.0 771.6,438.0 719.8,438.0 719.8,503.0 698.0,530.5" fill="none" stroke="#161616" stroke-width="1.80" />
<polyline points="801.8,333.0 801.8,447.5 776.0,447.5 776.0,500.5 757.0,528.0" fill="none" stroke="#161616" stroke-width="1.80" />
<rect x="779.8" y="349.6" width="42.2" height="14.4" fill="none" stroke="#161616" stroke-width="2.00"/>
<polyline points="790.6,349.6 790.6,364.0" fill="none" stroke="#161616" stroke-width="1.80" />
<polyline points="812.0,349.6 812.0,364.0" fill="none" stroke="#161616" stroke-width="1.80" />
<rect x="750.4" y="382.7" width="41.4" height="14.6" fill="none" stroke="#161616" stroke-width="2.00"/>
<polyline points="760.6,382.7 760.6,397.3" fill="none" stroke="#161616" stroke-width="1.80" />
<polyline points="781.8,382.7 781.8,397.3" fill="none" stroke="#161616" stroke-width="1.80" />
<polyline points="812.0,364.0 820.7,408.5 795.5,391.5" fill="none" stroke="#161616" stroke-width="1.80" />
<text x="819.4" y="423.0" font-size="13.8" font-weight="500" text-anchor="middle" fill="#161616" font-family='"Liberation Sans", "Noto Sans CJK SC", sans-serif' dominant-baseline="central" letter-spacing="0.8"  stroke="#161616" stroke-width="0.45" stroke-linejoin="round">电流</text>
<text x="826.9" y="440.5" font-size="13.8" font-weight="500" text-anchor="middle" fill="#161616" font-family='"Liberation Sans", "Noto Sans CJK SC", sans-serif' dominant-baseline="central" letter-spacing="0.8"  stroke="#161616" stroke-width="0.45" stroke-linejoin="round">互感器</text>
<polyline points="491.5,457.7 785.0,457.7" fill="none" stroke="#161616" stroke-width="1.80" />
<polyline points="491.5,557.0 785.0,557.0" fill="none" stroke="#161616" stroke-width="1.80" />
<polyline points="491.5,600.3 785.0,600.3" fill="none" stroke="#161616" stroke-width="1.80" />
<polyline points="491.5,648.7 785.0,648.7" fill="none" stroke="#161616" stroke-width="1.80" />
<polyline points="491.5,698.0 785.0,698.0" fill="none" stroke="#161616" stroke-width="1.80" />
<polyline points="491.5,457.7 491.5,698.0" fill="none" stroke="#161616" stroke-width="1.80" />
<polyline points="785.0,457.7 785.0,698.0" fill="none" stroke="#161616" stroke-width="1.80" />
<polyline points="546.5,457.7 546.5,557.0" fill="none" stroke="#161616" stroke-width="1.80" />
<polyline points="546.0,600.3 546.0,698.0" fill="none" stroke="#161616" stroke-width="1.80" />
<polyline points="605.5,457.7 605.5,557.0" fill="none" stroke="#161616" stroke-width="1.80" />
<polyline points="606.5,600.3 606.5,698.0" fill="none" stroke="#161616" stroke-width="1.80" />
<polyline points="665.0,457.7 665.0,557.0" fill="none" stroke="#161616" stroke-width="1.80" />
<polyline points="667.0,600.3 667.0,698.0" fill="none" stroke="#161616" stroke-width="1.80" />
<polyline points="725.0,457.7 725.0,557.0" fill="none" stroke="#161616" stroke-width="1.80" />
<polyline points="726.3,600.3 726.3,698.0" fill="none" stroke="#161616" stroke-width="1.80" />
<circle cx="517.5" cy="483.6" r="19.3" fill="none" stroke="#161616" stroke-width="2.00"/>
<polyline points="498.2,483.6 536.8,483.6" fill="none" stroke="#161616" stroke-width="1.50" />
<polyline points="517.5,464.3 517.5,502.9" fill="none" stroke="#161616" stroke-width="1.50" />
<circle cx="517.5" cy="532.3" r="19.3" fill="none" stroke="#161616" stroke-width="2.00"/>
<polyline points="498.2,532.3 536.8,532.3" fill="none" stroke="#161616" stroke-width="1.50" />
<polyline points="517.5,513.0 517.5,551.6" fill="none" stroke="#161616" stroke-width="1.50" />
<circle cx="517.5" cy="623.5" r="19.3" fill="none" stroke="#161616" stroke-width="2.00"/>
<polyline points="498.2,623.5 536.8,623.5" fill="none" stroke="#161616" stroke-width="1.50" />
<polyline points="517.5,604.2 517.5,642.8" fill="none" stroke="#161616" stroke-width="1.50" />
<circle cx="576.0" cy="483.6" r="19.3" fill="none" stroke="#161616" stroke-width="2.00"/>
<polyline points="556.7,483.6 595.3,483.6" fill="none" stroke="#161616" stroke-width="1.50" />
<polyline points="576.0,464.3 576.0,502.9" fill="none" stroke="#161616" stroke-width="1.50" />
<circle cx="576.0" cy="532.3" r="19.3" fill="none" stroke="#161616" stroke-width="2.00"/>
<polyline points="556.7,532.3 595.3,532.3" fill="none" stroke="#161616" stroke-width="1.50" />
<polyline points="576.0,513.0 576.0,551.6" fill="none" stroke="#161616" stroke-width="1.50" />
<circle cx="576.0" cy="623.5" r="19.3" fill="none" stroke="#161616" stroke-width="2.00"/>
<polyline points="556.7,623.5 595.3,623.5" fill="none" stroke="#161616" stroke-width="1.50" />
<polyline points="576.0,604.2 576.0,642.8" fill="none" stroke="#161616" stroke-width="1.50" />
<circle cx="635.5" cy="483.6" r="19.3" fill="none" stroke="#161616" stroke-width="2.00"/>
<polyline points="616.2,483.6 654.8,483.6" fill="none" stroke="#161616" stroke-width="1.50" />
<polyline points="635.5,464.3 635.5,502.9" fill="none" stroke="#161616" stroke-width="1.50" />
<circle cx="635.5" cy="532.3" r="19.3" fill="none" stroke="#161616" stroke-width="2.00"/>
<polyline points="616.2,532.3 654.8,532.3" fill="none" stroke="#161616" stroke-width="1.50" />
<polyline points="635.5,513.0 635.5,551.6" fill="none" stroke="#161616" stroke-width="1.50" />
<circle cx="635.5" cy="623.5" r="19.3" fill="none" stroke="#161616" stroke-width="2.00"/>
<polyline points="616.2,623.5 654.8,623.5" fill="none" stroke="#161616" stroke-width="1.50" />
<polyline points="635.5,604.2 635.5,642.8" fill="none" stroke="#161616" stroke-width="1.50" />
<circle cx="693.5" cy="483.6" r="19.3" fill="none" stroke="#161616" stroke-width="2.00"/>
<polyline points="674.2,483.6 712.8,483.6" fill="none" stroke="#161616" stroke-width="1.50" />
<polyline points="693.5,464.3 693.5,502.9" fill="none" stroke="#161616" stroke-width="1.50" />
<circle cx="693.5" cy="532.3" r="19.3" fill="none" stroke="#161616" stroke-width="2.00"/>
<polyline points="674.2,532.3 712.8,532.3" fill="none" stroke="#161616" stroke-width="1.50" />
<polyline points="693.5,513.0 693.5,551.6" fill="none" stroke="#161616" stroke-width="1.50" />
<circle cx="693.5" cy="623.5" r="19.3" fill="none" stroke="#161616" stroke-width="2.00"/>
<polyline points="674.2,623.5 712.8,623.5" fill="none" stroke="#161616" stroke-width="1.50" />
<polyline points="693.5,604.2 693.5,642.8" fill="none" stroke="#161616" stroke-width="1.50" />
<circle cx="752.5" cy="483.6" r="19.3" fill="none" stroke="#161616" stroke-width="2.00"/>
<polyline points="733.2,483.6 771.8,483.6" fill="none" stroke="#161616" stroke-width="1.50" />
<polyline points="752.5,464.3 752.5,502.9" fill="none" stroke="#161616" stroke-width="1.50" />
<circle cx="752.5" cy="532.3" r="19.3" fill="none" stroke="#161616" stroke-width="2.00"/>
<polyline points="733.2,532.3 771.8,532.3" fill="none" stroke="#161616" stroke-width="1.50" />
<polyline points="752.5,513.0 752.5,551.6" fill="none" stroke="#161616" stroke-width="1.50" />
<circle cx="752.5" cy="623.5" r="19.3" fill="none" stroke="#161616" stroke-width="2.00"/>
<polyline points="733.2,623.5 771.8,623.5" fill="none" stroke="#161616" stroke-width="1.50" />
<polyline points="752.5,604.2 752.5,642.8" fill="none" stroke="#161616" stroke-width="1.50" />
<circle cx="517.5" cy="671.0" r="19.3" fill="none" stroke="#161616" stroke-width="2.00"/>
<polyline points="498.2,671.0 536.8,671.0" fill="none" stroke="#161616" stroke-width="1.50" />
<polyline points="517.5,651.7 517.5,690.3" fill="none" stroke="#161616" stroke-width="1.50" />
<circle cx="576.0" cy="671.0" r="19.3" fill="none" stroke="#161616" stroke-width="2.00"/>
<polyline points="556.7,671.0 595.3,671.0" fill="none" stroke="#161616" stroke-width="1.50" />
<polyline points="576.0,651.7 576.0,690.3" fill="none" stroke="#161616" stroke-width="1.50" />
<circle cx="635.5" cy="671.0" r="19.3" fill="none" stroke="#161616" stroke-width="2.00"/>
<polyline points="616.2,671.0 654.8,671.0" fill="none" stroke="#161616" stroke-width="1.50" />
<polyline points="635.5,651.7 635.5,690.3" fill="none" stroke="#161616" stroke-width="1.50" />
<circle cx="517.5" cy="577.5" r="17.0" fill="none" stroke="#161616" stroke-width="1.80"/>
<polyline points="517.5,561.0 517.5,579.5" fill="none" stroke="#161616" stroke-width="1.60" />
<polyline points="505.5,579.5 529.5,579.5" fill="none" stroke="#161616" stroke-width="2.10" />
<polyline points="509.5,583.5 525.5,583.5" fill="none" stroke="#161616" stroke-width="2.10" />
<polyline points="513.5,587.5 521.5,587.5" fill="none" stroke="#161616" stroke-width="2.10" />
<text x="566.8" y="580.0" font-size="16.5" font-weight="400" text-anchor="middle" fill="#161616" font-family='"Liberation Sans", sans-serif' dominant-baseline="central" textLength="7.8" lengthAdjust="spacingAndGlyphs" stroke="#161616" stroke-width="0.8">N</text>
<text x="636.3" y="580.0" font-size="16.5" font-weight="400" text-anchor="middle" fill="#161616" font-family='"Liberation Sans", sans-serif' dominant-baseline="central" textLength="7.8" lengthAdjust="spacingAndGlyphs" stroke="#161616" stroke-width="0.8">U</text>
<text x="689.0" y="580.0" font-size="16.5" font-weight="400" text-anchor="middle" fill="#161616" font-family='"Liberation Sans", sans-serif' dominant-baseline="central" textLength="7.8" lengthAdjust="spacingAndGlyphs" stroke="#161616" stroke-width="0.8">V</text>
<text x="750.8" y="580.0" font-size="16.5" font-weight="400" text-anchor="middle" fill="#161616" font-family='"Liberation Sans", sans-serif' dominant-baseline="central" textLength="7.8" lengthAdjust="spacingAndGlyphs" stroke="#161616" stroke-width="0.8">W</text>
<polyline points="517.5,688.0 517.5,799.0" fill="none" stroke="#161616" stroke-width="1.80" />
<polyline points="576.0,688.0 576.0,799.0" fill="none" stroke="#161616" stroke-width="1.80" />
<polyline points="635.5,688.0 635.5,799.0" fill="none" stroke="#161616" stroke-width="1.80" />
<ellipse cx="570.5" cy="764.5" rx="77.5" ry="9.3" fill="none" stroke="#161616" stroke-width="1.80"/>
<text x="571.4" y="810.5" font-size="14.3" font-weight="500" text-anchor="middle" fill="#161616" font-family='"Liberation Sans", "Noto Sans CJK SC", sans-serif' dominant-baseline="central" letter-spacing="0.8"  stroke="#161616" stroke-width="0.45" stroke-linejoin="round">接室内机对应端子</text>
<text x="578.0" y="826.5" font-size="15.0" font-weight="500" text-anchor="middle" fill="#161616" font-family='"Liberation Sans", "Noto Sans CJK SC", sans-serif' dominant-baseline="central" textLength="139.0" lengthAdjust="spacingAndGlyphs"  stroke="#161616" stroke-width="0.45" stroke-linejoin="round">(接室内机电源进线)</text>
<polyline points="519.5,626.0 541.4,648.5 541.4,705.5 700.0,795.0" fill="none" stroke="#161616" stroke-width="1.90" />
<polyline points="578.0,626.0 601.0,648.5 601.0,705.5 739.6,795.6" fill="none" stroke="#161616" stroke-width="1.90" />
<polyline points="637.5,626.0 660.0,648.5 660.0,705.5 764.8,797.8" fill="none" stroke="#161616" stroke-width="1.90" />
<polyline points="695.5,626.0 712.5,648.5 712.5,705.5 786.4,795.6" fill="none" stroke="#161616" stroke-width="1.90" />
<polyline points="754.5,626.0 775.5,648.5 775.5,705.5 804.4,796.0" fill="none" stroke="#161616" stroke-width="1.90" />
<ellipse cx="733.0" cy="773.0" rx="77.5" ry="9.0" fill="none" stroke="#161616" stroke-width="1.80"/>
<text x="706.5" y="812.5" font-size="14.5" font-weight="500" text-anchor="middle" fill="#161616" font-family='"Liberation Sans", "Noto Sans CJK SC", sans-serif' dominant-baseline="central" letter-spacing="1.3"  stroke="#161616" stroke-width="0.45" stroke-linejoin="round">黄/绿</text>
<text x="740.7" y="812.5" font-size="13.8" font-weight="500" text-anchor="middle" fill="#161616" font-family='"Liberation Sans", "Noto Sans CJK SC", sans-serif' dominant-baseline="central" letter-spacing="0.8"  stroke="#161616" stroke-width="0.45" stroke-linejoin="round">蓝</text>
<text x="763.9" y="812.5" font-size="13.8" font-weight="500" text-anchor="middle" fill="#161616" font-family='"Liberation Sans", "Noto Sans CJK SC", sans-serif' dominant-baseline="central" letter-spacing="0.8"  stroke="#161616" stroke-width="0.45" stroke-linejoin="round">棕</text>
<text x="786.4" y="812.5" font-size="13.8" font-weight="500" text-anchor="middle" fill="#161616" font-family='"Liberation Sans", "Noto Sans CJK SC", sans-serif' dominant-baseline="central" letter-spacing="0.8"  stroke="#161616" stroke-width="0.45" stroke-linejoin="round">白</text>
<text x="808.9" y="812.5" font-size="13.8" font-weight="500" text-anchor="middle" fill="#161616" font-family='"Liberation Sans", "Noto Sans CJK SC", sans-serif' dominant-baseline="central" letter-spacing="0.8"  stroke="#161616" stroke-width="0.45" stroke-linejoin="round">黑</text>
<text x="732.4" y="832.5" font-size="14.1" font-weight="500" text-anchor="middle" fill="#161616" font-family='"Liberation Sans", "Noto Sans CJK SC", sans-serif' dominant-baseline="central" letter-spacing="0.8"  stroke="#161616" stroke-width="0.45" stroke-linejoin="round">五芯总电源线</text>
<polyline points="73.7,688.5 73.7,726.0" fill="none" stroke="#161616" stroke-width="1.80" />
<polyline points="121.3,688.5 121.3,726.0" fill="none" stroke="#161616" stroke-width="1.80" />
<polyline points="56.0,720.7 63.5,735.4 128.6,735.4 137.0,751.5" fill="none" stroke="#161616" stroke-width="1.80" />
<polyline points="56.0,738.0 63.5,752.4 128.6,752.4 137.0,767.5" fill="none" stroke="#161616" stroke-width="1.80" />
<polyline points="73.7,761.0 73.7,775.0" fill="none" stroke="#161616" stroke-width="1.80" />
<polyline points="121.3,761.0 121.3,775.0" fill="none" stroke="#161616" stroke-width="1.80" />
<text x="98.9" y="794.0" font-size="14.3" font-weight="500" text-anchor="middle" fill="#161616" font-family='"Liberation Sans", "Noto Sans CJK SC", sans-serif' dominant-baseline="central" letter-spacing="0.8"  stroke="#161616" stroke-width="0.45" stroke-linejoin="round">接室内机</text>
<text x="106.4" y="810.0" font-size="14.3" font-weight="500" text-anchor="middle" fill="#161616" font-family='"Liberation Sans", "Noto Sans CJK SC", sans-serif' dominant-baseline="central" letter-spacing="0.8"  stroke="#161616" stroke-width="0.45" stroke-linejoin="round">左侧空插座</text>
<ellipse cx="248.2" cy="721.6" rx="89.0" ry="8.2" fill="none" stroke="#161616" stroke-width="1.80"/>
<polyline points="171.5,680.0 171.5,744.5 241.0,787.7" fill="none" stroke="#161616" stroke-width="1.90" />
<polyline points="219.5,680.0 219.5,744.5 269.7,786.0" fill="none" stroke="#161616" stroke-width="1.90" />
<polyline points="269.5,680.0 269.5,744.5 304.0,786.0" fill="none" stroke="#161616" stroke-width="1.90" />
<polyline points="319.0,680.0 319.0,744.5 330.0,786.0" fill="none" stroke="#161616" stroke-width="1.90" />
<text x="278.4" y="810.0" font-size="14.3" font-weight="500" text-anchor="middle" fill="#161616" font-family='"Liberation Sans", "Noto Sans CJK SC", sans-serif' dominant-baseline="central" letter-spacing="0.8"  stroke="#161616" stroke-width="0.45" stroke-linejoin="round">接室内机</text>
<text x="278.4" y="825.5" font-size="14.3" font-weight="500" text-anchor="middle" fill="#161616" font-family='"Liberation Sans", "Noto Sans CJK SC", sans-serif' dominant-baseline="central" letter-spacing="0.8"  stroke="#161616" stroke-width="0.45" stroke-linejoin="round">对应端子</text>
</svg>
</body>
</html>
